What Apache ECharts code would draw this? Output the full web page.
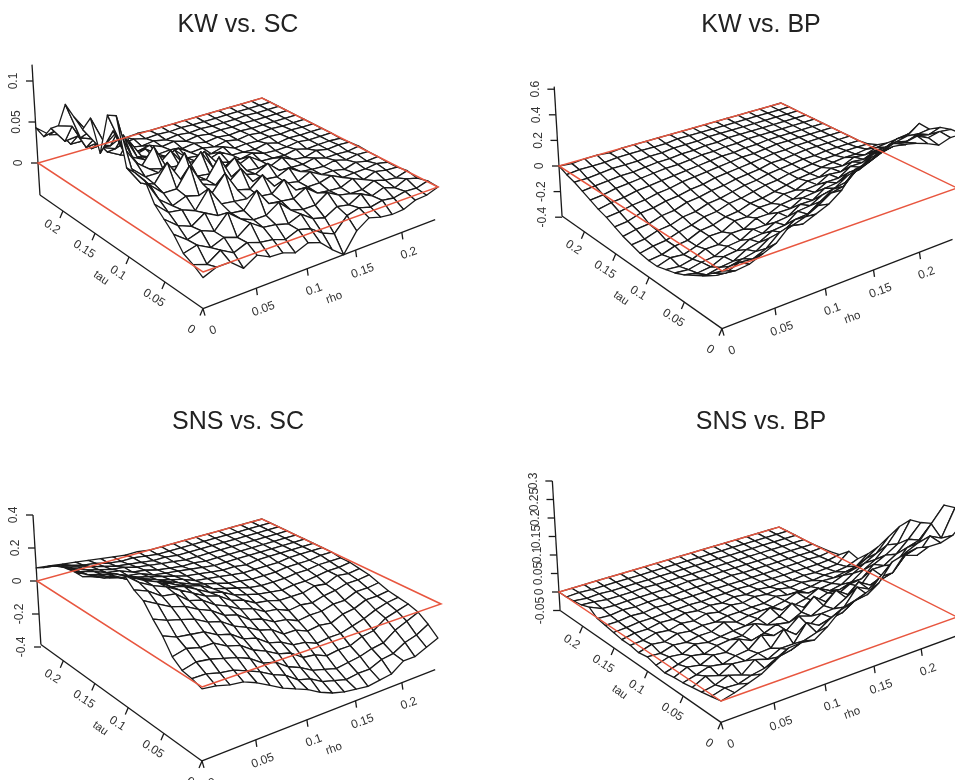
<!DOCTYPE html>
<html><head><meta charset="utf-8">
<style>html,body{margin:0;padding:0;background:#fff}#c{width:955px;height:780px}#c canvas{filter:blur(.45px)}</style>
<script src="https://cdn.jsdelivr.net/npm/echarts@6/dist/echarts.min.js"></script>
</head><body><div id="c"></div>
<script>
const rhoValues=[0,.0125,.025,.0375,.05,.0625,.075,.0875,.1,.1125,.125,.1375,.15,.1625,.175,.1875,.2,.2125,.225,.2375];
const tauValues=[0,.0125,.025,.0375,.05,.0625,.075,.0875,.1,.1125,.125,.1375,.15,.1625,.175,.1875,.2,.2125,.225,.2375];
const axisTicks=[.05,.1,.15,.2];
const axisTickLabels=['0.05','0.1','0.15','0.2'];
// rows: tau ascending, columns: rho ascending
// KW vs. SC, in thousandths
const kwSc=[
[-6,0,0,-12,-3,-10,-11,-16,-10,-15,-28,-39,-17,-7,-11,-13,-12,-6,-5,0],
[1,-4,6,-2,4,-1,-3,-8,-2,-6,-16,-22,-6,-2,-6,-3,-5,-2,-3,1],
[6,10,2,8,3,14,4,2,-2,4,-6,-10,-2,-5,3,-4,1,-4,2,-2],
[20,9,14,8,24,12,6,6,16,2,-2,-2,8,0,-3,-3,3,-1,-3,1],
[30,18,12,22,14,12,10,28,8,6,4,12,1,-1,-2,4,-2,3,0,-1],
[40,26,24,18,38,16,14,12,10,8,20,3,2,2,6,-1,0,0,2,-1],
[60,34,22,28,24,22,40,16,12,24,6,5,2,9,1,1,-2,2,-1,0],
[62,44,30,30,52,26,20,18,30,10,8,6,12,3,1,0,3,-1,1,0],
[62,40,34,54,30,24,20,42,14,12,8,16,3,2,1,4,0,0,-1,1],
[115,50,36,36,28,50,18,16,14,26,6,4,2,8,1,-1,3,0,1,0],
[110,70,46,34,30,24,20,36,12,10,6,12,2,1,0,3,-1,0,0,-1],
[60,82,44,30,50,20,18,14,26,8,4,3,6,1,0,0,2,0,0,0],
[95,60,72,36,28,18,30,10,8,5,10,2,1,0,3,-1,1,0,0,0],
[76,54,48,56,26,20,12,20,6,4,2,6,0,1,0,1,0,1,0,0],
[85,62,40,34,40,16,10,6,12,2,3,0,3,0,2,0,1,0,0,0],
[94,50,44,24,16,10,14,3,4,1,3,0,2,0,1,0,0,0,0,0],
[63,58,28,30,14,10,5,8,2,4,0,2,0,1,0,1,0,0,0,0],
[54,34,36,16,18,6,4,1,3,0,2,0,1,0,0,0,1,0,0,0],
[38,42,20,20,8,9,2,4,0,1,0,1,0,0,0,0,0,0,0,0],
[43,30,26,12,10,3,4,0,1,0,0,0,0,0,0,0,0,0,0,0]];
// KW vs. BP, in hundredths
const kwBp=[
[0,-3,-2,2,6,15,13,17,21,28,40,42,46,48,47,45,42,38,41,41],
[-6,-9,-5,-6,-2,6,8,11,16,22,24,33,36,40,44,42,44,40,42,41],
[-12,-15,-12,-10,-8,-2,-1,5,6,12,18,20,27,30,35,37,34,38,36,39],
[-16,-19,-17,-16,-11,-9,-4,-3,4,5,10,12,18,20,26,28,30,30,33,34],
[-20,-22,-21,-17,-16,-11,-10,-5,-4,2,2,8,9,14,15,22,22,26,28,35],
[-23,-24,-22,-21,-17,-16,-11,-11,-5,-5,0,1,6,6,12,12,17,18,22,23],
[-25,-26,-24,-20,-20,-15,-15,-10,-10,-6,-5,-1,0,5,4,9,8,12,12,16],
[-27,-24,-25,-22,-18,-18,-13,-13,-9,-9,-5,-5,-1,-1,3,2,6,5,8,9],
[-27,-26,-23,-22,-18,-17,-14,-13,-10,-9,-7,-5,-3,-2,0,1,2,2,3,4],
[-26,-24,-23,-20,-18,-15,-14,-11,-10,-8,-6,-5,-3,-2,-1,0,0,1,1,1],
[-24,-23,-20,-19,-16,-15,-12,-11,-9,-7,-6,-4,-3,-2,-1,-1,0,0,0,0],
[-22,-20,-19,-16,-15,-12,-11,-9,-8,-6,-5,-4,-2,-2,-1,0,0,0,0,0],
[-19,-18,-15,-14,-12,-11,-9,-8,-6,-5,-4,-3,-2,-1,-1,0,0,0,0,0],
[-16,-15,-13,-12,-10,-9,-7,-6,-5,-4,-3,-2,-2,-1,0,0,0,0,0,0],
[-14,-12,-11,-9,-8,-7,-6,-5,-4,-3,-2,-2,-1,-1,0,0,0,0,0,0],
[-11,-10,-8,-7,-6,-5,-4,-4,-3,-2,-2,-1,-1,0,0,0,0,0,0,0],
[-8,-7,-6,-5,-5,-4,-3,-3,-2,-2,-1,-1,0,0,0,0,0,0,0,0],
[-5,-5,-4,-3,-3,-3,-2,-2,-1,-1,-1,0,0,0,0,0,0,0,0,0],
[-3,-2,-2,-2,-1,-1,-1,-1,-1,0,0,0,0,0,0,0,0,0,0,0],
[0,-1,0,0,-1,0,0,0,0,0,0,0,0,0,0,0,0,0,0,0]];
// SNS vs. SC, in hundredths
const snsSc=[
[-1,-2,-4,-5,-8,-12,-16,-19,-22,-26,-29,-31,-32,-33,-32,-31,-26,-26,-23,-20],
[1,1,-1,-2,-5,-8,-12,-15,-20,-22,-26,-28,-30,-29,-29,-26,-25,-21,-19,-15],
[2,4,3,1,-1,-4,-9,-11,-16,-19,-23,-25,-27,-26,-25,-23,-22,-17,-14,-11],
[6,8,6,6,2,0,-5,-8,-12,-14,-19,-20,-23,-22,-22,-19,-18,-13,-11,-9],
[14,11,10,9,5,3,-2,-4,-9,-11,-15,-16,-19,-18,-18,-16,-14,-11,-9,-8],
[20,17,15,13,9,7,2,-1,-5,-7,-12,-12,-15,-14,-15,-12,-11,-8,-8,-7],
[27,23,19,17,13,10,5,3,-2,-4,-8,-9,-12,-11,-11,-9,-9,-6,-6,-5],
[30,27,22,21,15,13,8,5,1,-1,-5,-6,-9,-8,-9,-7,-6,-4,-4,-3],
[35,29,25,22,18,14,10,8,3,1,-3,-4,-6,-6,-6,-4,-5,-2,-3,-2],
[33,29,25,22,17,15,11,7,5,1,-1,-3,-4,-5,-4,-4,-3,-2,-2,-1],
[30,26,24,19,17,13,10,8,4,2,0,-2,-3,-3,-3,-2,-2,-1,-1,-1],
[26,24,20,18,14,12,9,6,4,2,0,-1,-2,-2,-2,-1,-1,-1,0,0],
[23,20,18,15,13,10,8,6,3,2,1,0,-1,-1,-1,-1,0,0,0,0],
[20,18,15,13,11,9,7,5,3,2,1,0,0,-1,0,0,0,0,0,0],
[20,16,14,12,9,8,5,4,3,2,1,0,0,0,0,0,0,0,0,0],
[19,15,13,10,9,6,5,3,2,1,1,0,0,0,0,0,0,0,0,0],
[18,14,11,9,7,6,4,3,2,1,0,0,0,0,0,0,0,0,0,0],
[15,12,10,8,6,4,3,2,1,1,0,0,0,0,0,0,0,0,0,0],
[11,10,8,6,5,3,2,2,1,0,0,0,0,0,0,0,0,0,0,0],
[8,7,6,5,4,3,2,1,1,0,0,0,0,0,0,0,0,0,0,0]];
// SNS vs. BP, in thousandths
const snsBp=[
[0,8,19,30,50,70,73,68,90,120,130,143,157,200,210,216,210,210,220,250],
[-5,4,2,12,18,34,40,52,62,84,90,110,115,150,150,185,175,215,200,270],
[-10,-4,8,-2,24,14,30,30,72,55,64,80,120,105,120,130,170,185,225,265],
[-14,2,-8,10,6,14,16,52,28,40,60,62,80,110,92,105,125,160,170,205],
[-18,-10,0,-6,4,8,34,22,24,50,40,56,85,64,75,110,110,130,160,195],
[-20,-6,-12,2,-2,20,6,14,26,20,36,66,42,52,68,72,100,115,135,190],
[-24,-14,-4,-10,0,4,4,24,10,22,45,24,30,42,40,50,72,90,120,160],
[-20,-10,-14,0,-6,-2,2,4,12,30,14,16,24,40,24,30,50,68,85,120],
[-14,-16,-6,-10,-4,-4,10,0,6,8,8,14,26,14,16,20,32,40,58,80],
[-18,-8,-12,-2,-6,-2,-4,2,2,4,4,12,6,6,8,14,12,18,24,48],
[-14,-12,-4,-8,0,-4,4,-2,6,2,8,4,8,2,6,2,6,6,10,22],
[-14,-8,-8,-2,-4,2,-2,2,-2,4,0,4,0,2,0,2,0,2,4,30],
[-10,-8,-4,-4,-2,-2,0,-2,0,0,2,0,2,0,0,0,0,0,2,8],
[-6,-6,-2,-4,0,-2,0,0,0,0,0,0,0,0,0,0,0,2,0,4],
[-2,-4,0,-2,0,0,-2,0,0,0,0,2,0,0,0,0,0,0,0,2],
[14,0,-2,0,0,0,0,0,2,0,0,0,0,0,0,0,0,0,0,0],
[6,4,0,0,0,2,0,0,0,0,0,0,0,0,0,0,0,0,0,0],
[3,0,2,0,0,0,0,0,0,0,0,0,0,0,0,0,0,0,0,0],
[0,2,0,0,0,0,0,0,0,0,0,0,0,0,0,0,0,0,0,0],
[0,0,0,0,0,0,0,0,0,0,0,0,0,0,0,0,0,0,0,0]];

const kwScTicks=[0,.05,.1], kwScLabels=['0','0.05','0.1'];
const kwBpTicks=[-.4,-.2,0,.2,.4,.6], kwBpLabels=['-0.4','-0.2','0','0.2','0.4','0.6'];
const snsScTicks=[-.4,-.2,0,.2,.4], snsScLabels=['-0.4','-0.2','0','0.2','0.4'];
const snsBpTicks=[-.05,0,.05,.1,.15,.2,.25,.3], snsBpLabels=['-0.05','0','0.05','0.1','0.15','0.2','0.25','0.3'];

const INK='#1a1a1a', RED='#e8563f', TXT='#333';
const FONT='"Liberation Sans",Arial,sans-serif';
const panels=[
 {title:'KW vs. SC',tx:233,ty:8,z:kwSc,unit:1000,plane:[[203,272],[438,187],[262,98],[38,163]],k:820,zMin:-.039,zMax:.12,ticks:kwScTicks,labels:kwScLabels},
 {title:'KW vs. BP',tx:756,ty:8,z:kwBp,unit:100,plane:[[722,271],[957,188],[781,103],[559,166]],k:128,zMin:-.39,zMax:.62,ticks:kwBpTicks,labels:kwBpLabels},
 {title:'SNS vs. SC',tx:233,ty:405,z:snsSc,unit:100,plane:[[202,687],[441,604],[262,519],[37,581]],k:165,zMin:-.385,zMax:.4,ticks:snsScTicks,labels:snsScLabels},
 {title:'SNS vs. BP',tx:756,ty:405,z:snsBp,unit:1000,plane:[[721,701],[957,617],[779,527],[559,592]],k:370,zMin:-.05,zMax:.3,ticks:snsBpTicks,labels:snsBpLabels}
];
const rhoMax=rhoValues[rhoValues.length-1], tauMax=tauValues[tauValues.length-1];
const LEAN=.00037;

function makeProjection(p){
 const [[x0,y0],[x1,y1],[x2,y2],[x3,y3]]=p.plane;
 const sx=x0-x1+x2-x3, sy=y0-y1+y2-y3, dx1=x1-x2, dx2=x3-x2, dy1=y1-y2, dy2=y3-y2;
 const den=dx1*dy2-dx2*dy1, g=(sx*dy2-dx2*sy)/den, h=(dx1*sy-sx*dy1)/den;
 const a=x1-x0+g*x1, b=x3-x0+h*x3, d=y1-y0+g*y1, e=y3-y0+h*y3, w0=1+h;
 return function(rho,tau,z){
  const u=rho/rhoMax, v=tau/tauMax, w=g*u+h*v+1;
  const X=(a*u+b*v+x0)/w, Y=(d*u+e*v+y0)/w, H=z*p.k*w0/w;
  return [X+(X-x0)*LEAN*H, Y-H];
 };
}
function text(str,pos,rot,size){
 return {type:'text',x:pos[0],y:pos[1],rotation:rot,silent:true,
  style:{text:str,x:0,y:0,fill:TXT,font:size+'px '+FONT,align:'center',verticalAlign:'middle'}};
}
function line(a,b,color,w){
 return {type:'line',silent:true,shape:{x1:a[0],y1:a[1],x2:b[0],y2:b[1]},style:{stroke:color,lineWidth:w}};
}
const series=[], titles=[];
panels.forEach(function(p){
 const proj=makeProjection(p);
 titles.push({text:p.title,left:p.tx,top:p.ty,textAlign:'center',
  textStyle:{fontFamily:'Liberation Sans',fontSize:25,fontWeight:'normal',color:'#222'}});
 const val=(t,r)=>p.z[t][r]/p.unit;
 // facets ordered far to near so nearer ones hide those behind
 const facets=[];
 for(let t=tauValues.length-2;t>=0;t--)for(let r=rhoValues.length-2;r>=0;r--)facets.push([r,t]);
 series.push({type:'custom',coordinateSystem:'none',silent:true,animation:false,progressive:0,z:2,data:facets,
  renderItem:function(params,api){
   const r=api.value(0), t=api.value(1);
   const pts=[[r,t],[r+1,t],[r+1,t+1],[r,t+1]].map(c=>proj(rhoValues[c[0]],tauValues[c[1]],val(c[1],c[0])));
   return {type:'polygon',silent:true,shape:{points:pts},style:{fill:'#fff',stroke:INK,lineWidth:1.3,lineJoin:'round'}};
  }});
 // axes
 series.push({type:'custom',coordinateSystem:'none',silent:true,animation:false,z:3,data:[[0]],
  renderItem:function(){
   const ch=[], zb=p.zMin;
   const corner=proj(0,0,zb), rhoEnd=proj(rhoMax,0,zb), tauEnd=proj(0,tauMax,zb), zTop=proj(0,tauMax,p.zMax);
   ch.push(line(corner,rhoEnd,INK,1.3),line(corner,tauEnd,INK,1.3),line(tauEnd,zTop,INK,1.3));
   axisTicks.forEach(function(v,i){
    const a=proj(v,0,zb), b=proj(0,v,zb);
    ch.push(line(a,[a[0]+1,a[1]+7],INK,1.3),line(b,[b[0]-3,b[1]+7],INK,1.3));
    ch.push(text(axisTickLabels[i],[a[0]+7,a[1]+21],.35,12),text(axisTickLabels[i],[b[0]-11,b[1]+16],-.58,12));
   });
   ch.push(line(corner,[corner[0]+2,corner[1]+7],INK,1.3),line(corner,[corner[0]-3,corner[1]+7],INK,1.3));
   ch.push(text('0',[corner[0]+10,corner[1]+22],.35,12),text('0',[corner[0]-12,corner[1]+21],-.58,12));
   const rm=proj(.1,0,zb), tm=proj(0,.1,zb);
   ch.push(text('rho',[rm[0]+27,rm[1]+29],.35,11.5),text('tau',[tm[0]-28,tm[1]+21],-.62,11.5));
   p.ticks.forEach(function(v,i){
    const q=proj(0,tauMax,v);
    ch.push(line(q,[q[0]-7,q[1]],INK,1.3),text(p.labels[i],[q[0]-19,q[1]],Math.PI/2,12));
   });
   return {type:'group',children:ch};
  }});
 // red zero plane outline
 series.push({type:'custom',coordinateSystem:'none',silent:true,animation:false,z:4,data:[[0]],
  renderItem:function(){
   const pts=[[0,0],[rhoMax,0],[rhoMax,tauMax],[0,tauMax]].map(c=>proj(c[0],c[1],0));
   return {type:'polygon',silent:true,shape:{points:pts},style:{fill:'none',stroke:RED,lineWidth:1.5}};
  }});
});
const chart=echarts.init(document.getElementById('c'),null,{renderer:'canvas',width:955,height:780});
chart.setOption({animation:false,backgroundColor:'#fff',title:titles,series:series});
</script></body></html>
